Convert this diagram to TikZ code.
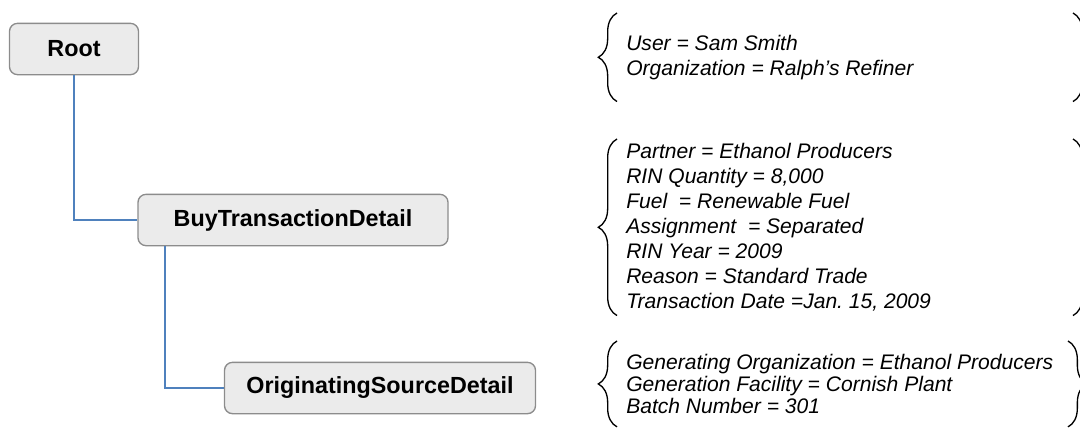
\documentclass[tikz,border=0pt]{standalone}
\usepackage{fontspec}
\setmainfont{Liberation Sans}
\definecolor{boxfill}{HTML}{EBEBEB}
\definecolor{boxline}{HTML}{8C8C8C}
\definecolor{treeblue}{HTML}{4F81BD}
\usetikzlibrary{decorations.pathreplacing}

\begin{document}
\begin{tikzpicture}[
  x=0.75pt, y=-0.75pt,
  box/.style={draw=boxline, fill=boxfill, line width=1pt, rounded corners=6pt, minimum height=38.5pt, align=center, font=\fontsize{17.5}{20}\selectfont\bfseries},
  link/.style={draw=treeblue, line width=1.5pt},
  attrs/.style={anchor=north west, inner xsep=6.75pt, inner ysep=0pt, align=left, font=\fontsize{15.8}{18.75}\selectfont\itshape},
  lbrace/.style={decorate, decoration={brace, amplitude=14pt}, line width=1pt},
  rbrace/.style={decorate, decoration={brace, amplitude=14pt}, line width=1pt}
]
  \useasboundingbox (0,0) rectangle (1080,429);

  % tree
  \node[box, minimum width=96.75pt] (root) at (74,49) {Root};
  \node[box, minimum width=232.5pt] (buy) at (293,220) {BuyTransactionDetail};
  \node[box, minimum width=233.25pt] (origin) at (380,388) {OriginatingSourceDetail};

  \draw[link] (root.south) |- (buy.west);
  \draw[link] ([xshift=21pt]buy.south west) |- (origin.west);

  % attribute lists
  \coordinate (edgeA) at (1073,0);
  \coordinate (edgeB) at (1068,0);
  \node[attrs, minimum height=66pt] (userinfo) at (617,13) {User = Sam Smith\\Organization = Ralph’s Refiner};
  \node[attrs, minimum height=132pt] (trade) at (617,139) {Partner = Ethanol Producers\\RIN Quantity = 8,000\\Fuel\ \ = Renewable Fuel\\Assignment\ \ = Separated\\RIN Year = 2009\\Reason = Standard Trade\\Transaction Date =Jan.\ 15, 2009};
  \node[attrs, minimum height=64pt, font=\fontsize{15.8}{16.5}\selectfont\itshape] (source) at (617,341) {Generating Organization = Ethanol Producers\\Generation Facility = Cornish Plant\\Batch Number = 301};

  \draw[lbrace] (userinfo.south west) -- (userinfo.north west);
  \draw[lbrace] (trade.south west) -- (trade.north west);
  \draw[lbrace] (source.south west) -- (source.north west);
  \draw[rbrace] (userinfo.north -| edgeA) -- (userinfo.south -| edgeA);
  \draw[rbrace] (trade.north -| edgeA) -- (trade.south -| edgeA);
  \draw[rbrace] (source.north -| edgeB) -- (source.south -| edgeB);
\end{tikzpicture}
\end{document}
